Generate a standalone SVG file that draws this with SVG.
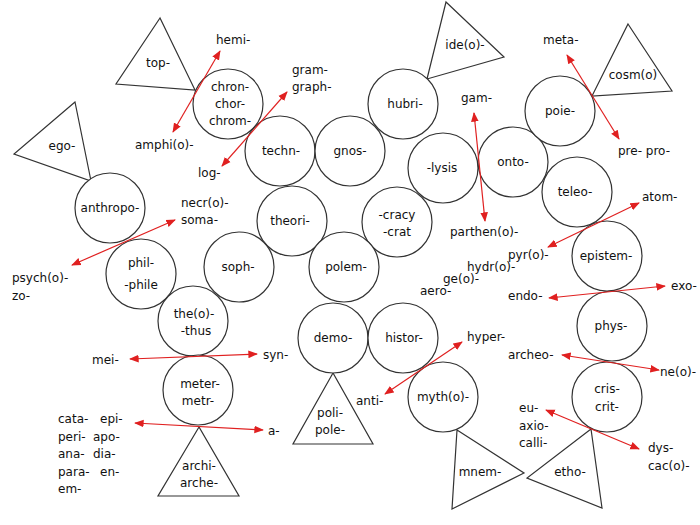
<svg xmlns="http://www.w3.org/2000/svg" width="700" height="525" viewBox="0 0 700 525">
<style>
.n{fill:#fff;stroke:#333;stroke-width:1.2}
text{font-family:"DejaVu Sans","Liberation Sans",sans-serif;font-size:12px;fill:#111}
.c{text-anchor:middle}
.a{stroke:#e02020;stroke-width:1.2;fill:none;marker-start:url(#h);marker-end:url(#h)}
</style>
<defs><marker id="h" viewBox="0 0 10 10" refX="9" refY="5" markerWidth="8" markerHeight="8" orient="auto-start-reverse"><path d="M0,1 L10,5 L0,9 z" fill="#e02020"/></marker></defs>
<rect width="700" height="525" fill="#fff"/>
<g id="top"><polygon class="n" points="160,18 116,84 195,90"/><text class="c" x="158" y="67">top-</text></g>
<g id="ego"><polygon class="n" points="75,102 14,154 91,181"/><text class="c" x="62" y="150">ego-</text></g>
<g id="ideo"><polygon class="n" points="446,2 504,57 427,79"/><text class="c" x="465" y="49">ide(o)-</text></g>
<g id="cosmo"><polygon class="n" points="628,24 672,91 592,96"/><text class="c" x="633" y="79">cosm(o)</text></g>
<g id="archi"><polygon class="n" points="199,427 158,496 239,496"/><text class="c" x="199" y="470">archi-</text><text class="c" x="199" y="487">arche-</text></g>
<g id="poli"><polygon class="n" points="333,373 293,444 373,444"/><text class="c" x="330" y="417">poli-</text><text class="c" x="330" y="434">pole-</text></g>
<g id="mnem"><polygon class="n" points="457,430 524,473 452,509"/><text class="c" x="480" y="476">mnem-</text></g>
<g id="etho"><polygon class="n" points="591,429 527,478 602,508"/><text class="c" x="570" y="476">etho-</text></g>
<g id="chron"><circle class="n" cx="228" cy="104" r="35"/><text class="c" x="230" y="91">chron-</text><text class="c" x="230" y="108">chor-</text><text class="c" x="230" y="125">chrom-</text></g>
<g id="techn"><circle class="n" cx="280" cy="151" r="35"/><text class="c" x="281" y="155">techn-</text></g>
<g id="gnos"><circle class="n" cx="350" cy="151" r="35"/><text class="c" x="350" y="155">gnos-</text></g>
<g id="hubri"><circle class="n" cx="403" cy="104" r="35"/><text class="c" x="405" y="108">hubri-</text></g>
<g id="lysis"><circle class="n" cx="443" cy="168" r="35"/><text class="c" x="442" y="172">-lysis</text></g>
<g id="onto"><circle class="n" cx="513" cy="162" r="35"/><text class="c" x="513" y="166">onto-</text></g>
<g id="poie"><circle class="n" cx="560" cy="111" r="35"/><text class="c" x="560" y="115">poie-</text></g>
<g id="teleo"><circle class="n" cx="577" cy="192" r="35"/><text class="c" x="575" y="196">teleo-</text></g>
<g id="epistem"><circle class="n" cx="607" cy="256" r="35"/><text class="c" x="606" y="260">epistem-</text></g>
<g id="phys"><circle class="n" cx="612" cy="326" r="35"/><text class="c" x="611" y="330">phys-</text></g>
<g id="cris"><circle class="n" cx="607" cy="397" r="35"/><text class="c" x="607" y="393">cris-</text><text class="c" x="607" y="411">crit-</text></g>
<g id="cracy"><circle class="n" cx="397" cy="222" r="35"/><text class="c" x="397" y="219">-cracy</text><text class="c" x="397" y="236">-crat</text></g>
<g id="theori"><circle class="n" cx="292" cy="221" r="35"/><text class="c" x="290" y="225">theori-</text></g>
<g id="anthropo"><circle class="n" cx="110" cy="208" r="35"/><text class="c" x="110" y="212">anthropo-</text></g>
<g id="phil"><circle class="n" cx="141" cy="274" r="35"/><text class="c" x="141" y="267">phil-</text><text class="c" x="141" y="289">-phile</text></g>
<g id="soph"><circle class="n" cx="239" cy="267" r="35"/><text class="c" x="238" y="271">soph-</text></g>
<g id="polem"><circle class="n" cx="344" cy="267" r="35"/><text class="c" x="346" y="271">polem-</text></g>
<g id="theo"><circle class="n" cx="193" cy="321" r="35"/><text class="c" x="194" y="318">the(o)-</text><text class="c" x="196" y="335">-thus</text></g>
<g id="demo"><circle class="n" cx="333" cy="338" r="35"/><text class="c" x="333" y="342">demo-</text></g>
<g id="histor"><circle class="n" cx="403" cy="338" r="35"/><text class="c" x="404" y="342">histor-</text></g>
<g id="mytho"><circle class="n" cx="443" cy="397" r="35"/><text class="c" x="443" y="401">myth(o)-</text></g>
<g id="meter"><circle class="n" cx="198" cy="390" r="35"/><text class="c" x="200" y="388">meter-</text><text class="c" x="198" y="405">metr-</text></g>
<g id="connectors">
<line class="a" x1="220" y1="51" x2="173" y2="132"/>
<line class="a" x1="287" y1="92" x2="222" y2="166"/>
<line class="a" x1="175" y1="220" x2="72" y2="265"/>
<line class="a" x1="474" y1="113" x2="485" y2="221"/>
<line class="a" x1="567" y1="55" x2="619" y2="139"/>
<line class="a" x1="639" y1="203" x2="548" y2="247"/>
<line class="a" x1="130" y1="359" x2="257" y2="354"/>
<line class="a" x1="135" y1="423" x2="263" y2="430"/>
<line class="a" x1="462" y1="342" x2="385" y2="394"/>
<line class="a" x1="549" y1="298" x2="665" y2="286"/>
<line class="a" x1="562" y1="355" x2="659" y2="370"/>
<line class="a" x1="546" y1="410" x2="639" y2="449"/>
</g>
<g id="labels">
<text x="216" y="44">hemi-</text>
<text x="292" y="74">gram-</text><text x="292" y="91">graph-</text>
<text x="135" y="149">amphi(o)-</text>
<text x="198" y="177">log-</text>
<text x="181" y="207">necr(o)-</text><text x="181" y="224">soma-</text>
<text x="12" y="282">psych(o)-</text><text x="12" y="300">zo-</text>
<text x="461" y="102">gam-</text>
<text x="543" y="44">meta-</text>
<text x="618" y="155">pre- pro-</text>
<text x="450" y="236">parthen(o)-</text>
<text x="642" y="201">atom-</text>
<text x="508" y="259">pyr(o)-</text>
<text x="467" y="271">hydr(o)-</text>
<text x="443" y="283">ge(o)-</text>
<text x="420" y="295">aero-</text>
<text x="508" y="300">endo-</text>
<text x="671" y="290">exo-</text>
<text x="467" y="341">hyper-</text>
<text x="508" y="359">archeo-</text>
<text x="660" y="376">ne(o)-</text>
<text x="356" y="405">anti-</text>
<text x="519" y="412">eu-</text><text x="519" y="430">axio-</text><text x="519" y="447">calli-</text>
<text x="648" y="452">dys-</text><text x="648" y="470">cac(o)-</text>
<text x="92" y="364">mei-</text>
<text x="263" y="359">syn-</text>
<text x="268" y="435">a-</text>
<text x="58" y="423">cata-</text><text x="100" y="423">epi-</text>
<text x="58" y="441">peri-</text><text x="93" y="441">apo-</text>
<text x="58" y="458">ana-</text><text x="93" y="458">dia-</text>
<text x="58" y="476">para-</text><text x="100" y="476">en-</text>
<text x="58" y="493">em-</text>
</g>
</svg>
